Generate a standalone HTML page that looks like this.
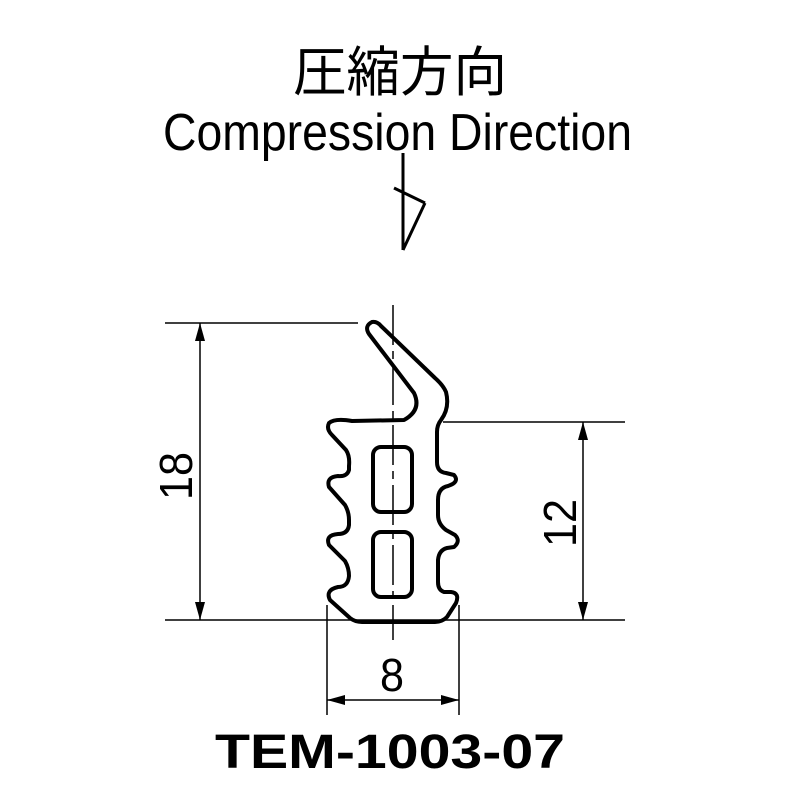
<!DOCTYPE html>
<html><head><meta charset="utf-8"><style>html,body{margin:0;padding:0;background:#fff}svg{display:block}</style></head>
<body>
<svg width="800" height="800" viewBox="0 0 800 800" xmlns="http://www.w3.org/2000/svg">
<g font-family="'Liberation Sans','Noto Sans CJK JP',sans-serif" fill="#000">
<text x="400" y="91" font-size="54" text-anchor="middle" textLength="214" lengthAdjust="spacingAndGlyphs">圧縮方向</text>
<text x="163" y="150" font-size="52" textLength="469" lengthAdjust="spacingAndGlyphs">Compression Direction</text>
<text x="390" y="768" font-size="48" font-weight="bold" text-anchor="middle" textLength="350" lengthAdjust="spacingAndGlyphs">TEM-1003-07</text>
<text x="392" y="691" font-size="46" text-anchor="middle" textLength="24" lengthAdjust="spacingAndGlyphs">8</text>
<text transform="translate(192,476) rotate(-90)" font-size="46" text-anchor="middle" textLength="48" lengthAdjust="spacingAndGlyphs">18</text>
<text transform="translate(576,523) rotate(-90)" font-size="46" text-anchor="middle" textLength="48" lengthAdjust="spacingAndGlyphs">12</text>
</g>
<g stroke="#000" fill="none">
<line x1="403" y1="153" x2="403" y2="250" stroke-width="3"/>
<line x1="394" y1="188" x2="425" y2="203" stroke-width="3"/>
<line x1="425" y1="203" x2="403" y2="250" stroke-width="3"/>
<g stroke-width="1.5">
<line x1="165" y1="323" x2="358" y2="323"/>
<line x1="165" y1="620" x2="625" y2="620"/>
<line x1="443" y1="422" x2="625" y2="422"/>
<line x1="200" y1="323" x2="200" y2="620"/>
<line x1="583" y1="422" x2="583" y2="620"/>
<line x1="327" y1="605" x2="327" y2="715"/>
<line x1="459" y1="605" x2="459" y2="715"/>
<line x1="327" y1="700" x2="459" y2="700"/>
<line x1="393" y1="305" x2="393" y2="640" stroke-dasharray="40,6,8,6"/>
</g>
<g fill="#000" stroke="none">
<polygon points="200,323 195,341 205,341"/>
<polygon points="200,620 195,602 205,602"/>
<polygon points="583,422 578,440 588,440"/>
<polygon points="583,620 578,602 588,602"/>
<polygon points="327,700 345,695 345,705"/>
<polygon points="459,700 441,695 441,705"/>
</g>
<g stroke-width="4" stroke-linejoin="round">
<path d="M372,322 Q364,326 369,334 L414,393 Q422,410 404,420 L352,421 Q335,418 329,423 Q326,429 332,435 L346,450 Q350,456 349,466 L349,470 Q347,477 338,476 Q326,477 329,487 L345,505 Q349,512 349,520 L349,525 Q348,534 338,534 Q325,535 329,545 L345,561 Q349,568 349,576 Q348,587 338,587 Q325,590 330,600 L350,618 Q355,622 362,622 L435,622 Q442,622 447,617 L456,603 Q460,593 451,592 L444,592 Q438,590 438,582 L438,560 Q439,550 447,548 L454,547 Q461,541 455,535 L446,530 Q438,524 438,515 L438,500 Q438,488 448,486 Q460,482 454,475 L446,473 Q437,472 437,462 L437,432 Q437,425 441,420 Q450,408 446,392 Q443,385 435,378 L381,326 Q377,321 372,322 Z"/>
<rect x="373" y="447" width="39" height="65" rx="8"/>
<rect x="373" y="532" width="39" height="65" rx="8"/>
</g>
</g>
</svg>
</body></html>
